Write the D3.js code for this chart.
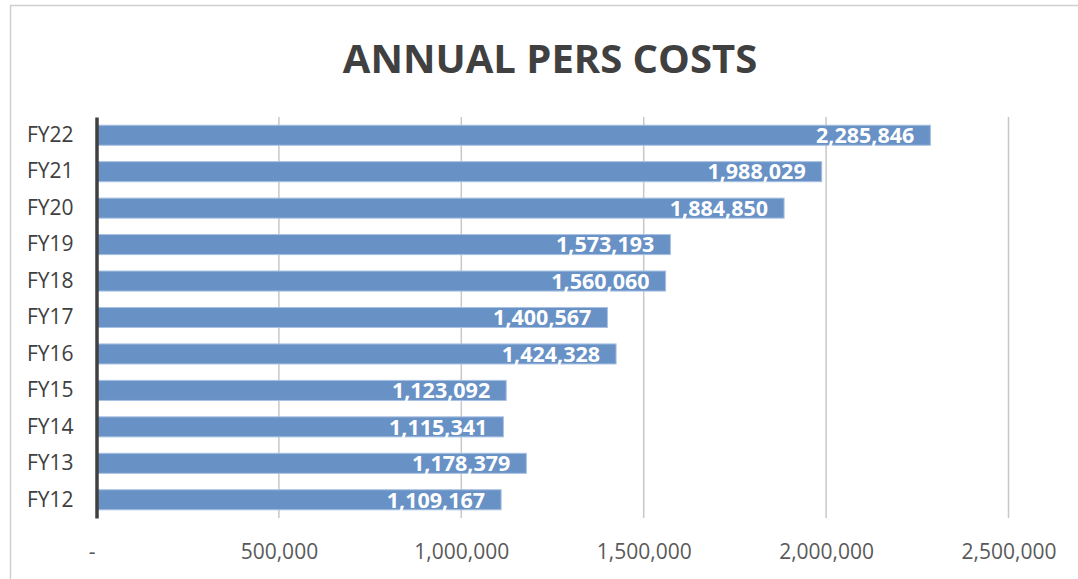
<!DOCTYPE html>
<html>
<head>
<meta charset="utf-8">
<script src="https://cdnjs.cloudflare.com/ajax/libs/d3/7.8.5/d3.min.js"></script>
<style>
  body { margin: 0; background: #fff; }
  text { font-family: "Open Sans", sans-serif; }
</style>
</head>
<body>
<div id="chart"></div>
<script>

var years = ["FY22", "FY21", "FY20", "FY19", "FY18", "FY17", "FY16", "FY15", "FY14", "FY13", "FY12"];
var costs = [2285846, 1988029, 1884850, 1573193, 1560060, 1400567, 1424328, 1123092, 1115341, 1178379, 1109167];
var xTicks = [0, 500000, 1000000, 1500000, 2000000, 2500000];

var W = 1078, H = 579;
var margin = { left: 96.5, right: 69.5, top: 117, bottom: 61 };
var width = W - margin.left - margin.right;
var height = H - margin.top - margin.bottom;

var svg = d3.select("#chart")
    .append("svg")
    .attr("width", W)
    .attr("height", H);

// outer frame (runs off the right and bottom edges)
svg.append("rect")
    .attr("x", 10.5).attr("y", 5.5)
    .attr("width", 1100).attr("height", 600)
    .attr("fill", "none")
    .attr("stroke", "#d0d0d0")
    .attr("stroke-width", 1.5);

svg.append("text")
    .attr("x", 550)
    .attr("y", 73)
    .attr("text-anchor", "middle")
    .style("font-size", "40px")
    .style("font-weight", "bold")
    .style("fill", "#404040")
    .text("ANNUAL PERS COSTS");

var g = svg.append("g")
    .attr("transform", "translate(" + margin.left + "," + margin.top + ")");

var x = d3.scaleLinear()
    .domain([0, 2500000])
    .range([0, width]);

var y = d3.scaleBand()
    .domain(years)
    .range([0, height])
    .paddingInner(0.45)
    .paddingOuter(0.225);

// gridlines
g.selectAll(".grid")
    .data(xTicks.slice(1)).enter()
    .append("line")
    .attr("class", "grid")
    .attr("x1", function(d){ return x(d) })
    .attr("x2", function(d){ return x(d) })
    .attr("y1", 0)
    .attr("y2", height)
    .attr("stroke", "#c8c8c8")
    .attr("stroke-width", 1.5);

var xAxis = d3.axisBottom(x)
    .tickValues(xTicks)
    .tickSize(0)
    .tickPadding(26)
    .tickFormat(function(d){ return d === 0 ? "-" : d3.format(",")(d) });

var xg = g.append("g")
    .attr("transform", "translate(0," + height + ")")
    .call(xAxis);
xg.select(".domain").remove();
xg.selectAll("text")
    .style("font-family", "'Open Sans', sans-serif")
    .style("font-size", "21px")
    .style("fill", "#595959");
xg.selectAll(".tick").filter(function(d){ return d === 0 })
    .select("text").attr("dx", -5);

// bars
g.selectAll(".bar")
    .data(costs).enter()
    .append("rect")
    .attr("class", "bar")
    .attr("x", 0)
    .attr("y", function(d, i){ return y(years[i]) })
    .attr("width", function(d){ return x(d) })
    .attr("height", y.bandwidth())
    .attr("fill", "#6891c6")
    .attr("stroke", "#a8c1e2")
    .attr("stroke-width", 1);

// value labels
g.selectAll(".val")
    .data(costs).enter()
    .append("text")
    .attr("class", "val")
    .attr("x", function(d){ return x(d) - 16 })
    .attr("y", function(d, i){ return y(years[i]) + y.bandwidth() / 2 })
    .attr("dy", "0.36em")
    .attr("text-anchor", "end")
    .style("font-size", "21.5px")
    .style("font-weight", "bold")
    .style("fill", "#fff")
    .text(function(d){ return d3.format(",")(d) });

var yAxis = d3.axisLeft(y).tickSize(0).tickPadding(23);
var yg = g.append("g").call(yAxis);
yg.select(".domain")
    .attr("stroke", "#404040")
    .attr("stroke-width", 3.5);
yg.selectAll("text")
    .style("font-family", "'Open Sans', sans-serif")
    .style("font-size", "21px")
    .style("fill", "#404040");

</script>
</body>
</html>
